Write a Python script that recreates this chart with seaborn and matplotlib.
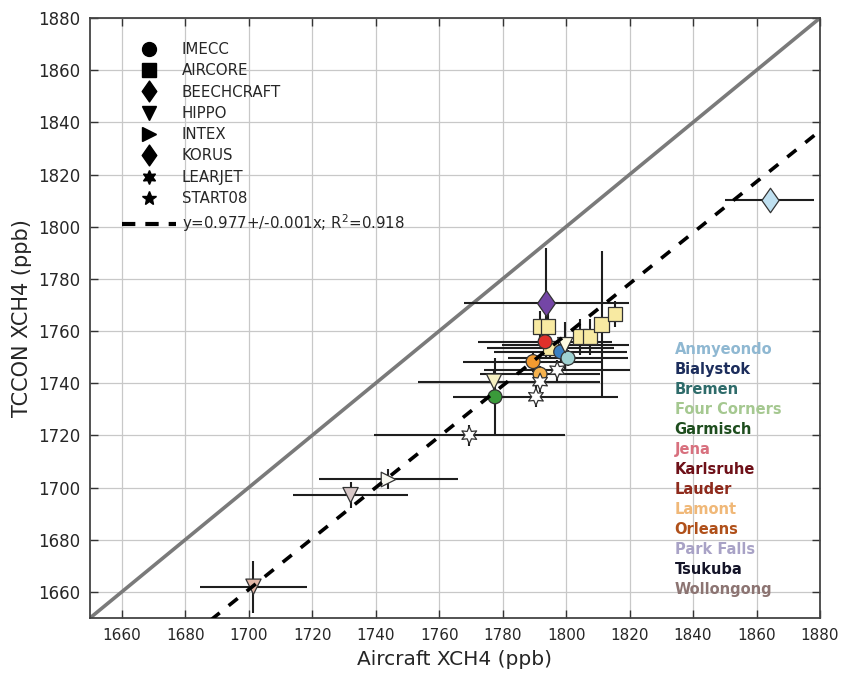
import numpy as np
import pandas as pd
import matplotlib
matplotlib.use("Agg")
import matplotlib.pyplot as plt
import seaborn as sns
from matplotlib.lines import Line2D
from matplotlib.path import Path

# ---------------- data ----------------
campaign = ["KORUS", "BEECHCRAFT",
            "AIRCORE", "AIRCORE", "AIRCORE", "AIRCORE", "AIRCORE", "AIRCORE", "AIRCORE",
            "IMECC", "IMECC", "IMECC", "IMECC", "IMECC", "IMECC",
            "HIPPO", "HIPPO", "HIPPO", "HIPPO",
            "INTEX",
            "LEARJET", "LEARJET", "LEARJET", "LEARJET"]
aircraft_x = [1864.2, 1793.7,
              1791.8, 1794.3, 1795.0, 1804.4, 1807.5, 1811.2, 1815.4,
              1793.4, 1798.3, 1800.6, 1789.6, 1791.8, 1777.6,
              1799.7, 1777.3, 1732.1, 1701.5,
              1744.0,
              1797.2, 1791.8, 1790.5, 1769.5]
tccon_y = [1810.2, 1770.7,
           1761.7, 1761.7, 1753.5, 1757.8, 1757.8, 1762.6, 1766.5,
           1755.9, 1752.0, 1749.6, 1748.3, 1743.5, 1734.8,
           1754.6, 1740.6, 1697.1, 1662.0,
           1703.3,
           1745.0, 1740.6, 1734.8, 1720.1]
x_err = [14, 26,
         2, 2, 20, 2, 2, 2, 2,
         21, 21, 19, 22, 19, 3,
         20, 24, 18, 17,
         22,
         23, 19, 26, 30]
y_err = [1, 21,
         6, 6, 4, 7, 7, 28, 5,
         4, 4, 3, 4, 3, 15,
         9, 5, 5, 10,
         4,
         4, 4, 4, 4]
marker_fill = ["#bfe0f0", "#7446a6",
               "#f8eaa2", "#f8eaa2", "#f8eaa2", "#f8eaa2", "#f8eaa2", "#f8eaa2", "#f8eaa2",
               "#e0302a", "#3a80c2", "#9fd2d2", "#f29a30", "#f5b24e", "#3a9a3a",
               "#fffbe2", "#f6f0c2", "#d8c8c8", "#e2b6a6",
               "#f8f8f0",
               "#ffffff", "#ffffff", "#ffffff", "#ffffff"]

legend_campaigns = ["IMECC", "AIRCORE", "BEECHCRAFT", "HIPPO", "INTEX", "KORUS", "LEARJET", "START08"]
slope, slope_err, r2 = 0.977, 0.001, 0.918

sites = ["Anmyeondo", "Bialystok", "Bremen", "Four Corners", "Garmisch", "Jena",
         "Karlsruhe", "Lauder", "Lamont", "Orleans", "Park Falls", "Tsukuba", "Wollongong"]
site_colors = ["#8fb8d2", "#1c2d5c", "#2e6b6a", "#a5c890", "#1e4d1e", "#d8707e",
               "#6e1018", "#8e2a1c", "#f0b878", "#b0501a", "#a8a2c6", "#141428", "#8c7472"]

x_ticks = list(range(1660, 1881, 20))
y_ticks = list(range(1660, 1881, 20))
lims = (1650, 1880)

# ---------------- style ----------------
sns.set_style("ticks")
plt.rcParams["font.family"] = ["DejaVu Sans"]

diamond = Path([(0, 1), (0.7, 0), (0, -1), (-0.7, 0), (0, 1)],
               [Path.MOVETO, Path.LINETO, Path.LINETO, Path.LINETO, Path.CLOSEPOLY])
markers = {"IMECC": "o", "AIRCORE": "s", "BEECHCRAFT": diamond, "HIPPO": "v",
           "INTEX": ">", "KORUS": diamond, "LEARJET": (6, 1, 0), "START08": "*"}
sizes = {"IMECC": 100, "AIRCORE": 110, "BEECHCRAFT": 340, "HIPPO": 120,
         "INTEX": 110, "KORUS": 310, "LEARJET": 150, "START08": 150}

df = pd.DataFrame({"campaign": campaign, "x": aircraft_x, "y": tccon_y,
                   "xerr": x_err, "yerr": y_err, "fill": marker_fill})

fig = plt.figure(figsize=(8.45, 6.77), dpi=100)
ax = fig.add_axes([90 / 845, 1 - 618 / 677, 730 / 845, 600 / 677])

ax.set_xlim(*lims)
ax.set_ylim(*lims)
ax.set_xticks(x_ticks)
ax.set_yticks(y_ticks)
ax.grid(True, color="#c8c8c8", linewidth=0.9)
ax.set_axisbelow(True)

# 1:1 line
sns.lineplot(x=list(lims), y=list(lims), ax=ax, color="#7a7a7a", linewidth=2.6, zorder=1)
# regression line
xl = np.array(lims, dtype=float)
sns.lineplot(x=xl, y=slope * xl, ax=ax, color="black", linewidth=2.6, zorder=4)
ax.lines[-1].set_dashes((3.2, 3.2))

# error bars
ax.errorbar(df["x"], df["y"], xerr=df["xerr"], yerr=df["yerr"], fmt="none",
            ecolor="#1e1e1e", elinewidth=1.5, capsize=0, zorder=2)

# markers
for camp, sub in df.groupby("campaign", sort=False):
    pal = {c: c for c in sub["fill"].unique()}
    sns.scatterplot(data=sub, x="x", y="y", hue="fill", palette=pal, marker=markers[camp],
                    s=sizes[camp], edgecolor="#333333", linewidth=0.9, legend=False,
                    ax=ax, zorder=3)

# ticks / spines
ax.tick_params(direction="in", length=6, width=1, color="#333333",
               top=True, right=True, pad=7)
ax.tick_params(axis="y", labelsize=12)
ax.tick_params(axis="x", labelsize=11)
for sp in ax.spines.values():
    sp.set_color("#444444")
    sp.set_linewidth(1.3)
ax.set_xlabel("Aircraft XCH4 (ppb)", fontsize=14.5, labelpad=5)
ax.set_ylabel("TCCON XCH4 (ppb)", fontsize=15, labelpad=4)

# legend
handles = [Line2D([], [], linestyle="none", marker=markers[c], color="black",
                  markersize=(15 if c in ("BEECHCRAFT", "KORUS") else 10)) for c in legend_campaigns]
handles.append(Line2D([], [], linestyle=(0, (3.2, 2.4)), color="black", linewidth=3))
labels = legend_campaigns + [f"y={slope}+/-{slope_err}x; R$^2$={r2}"]
ax.legend(handles, labels, loc="upper left", bbox_to_anchor=(0.028, 0.98), frameon=False,
          fontsize=10.8, handlelength=3.6, handletextpad=0.35, labelspacing=0.42,
          borderpad=0.3)

# site labels
for i, (s, c) in enumerate(zip(sites, site_colors)):
    ax.text(0.801, 0.4467 - i * 0.0333, s, color=c, fontsize=10.5, fontweight="bold",
            transform=ax.transAxes, va="center", ha="left")

fig.savefig("out.png", dpi=100)
